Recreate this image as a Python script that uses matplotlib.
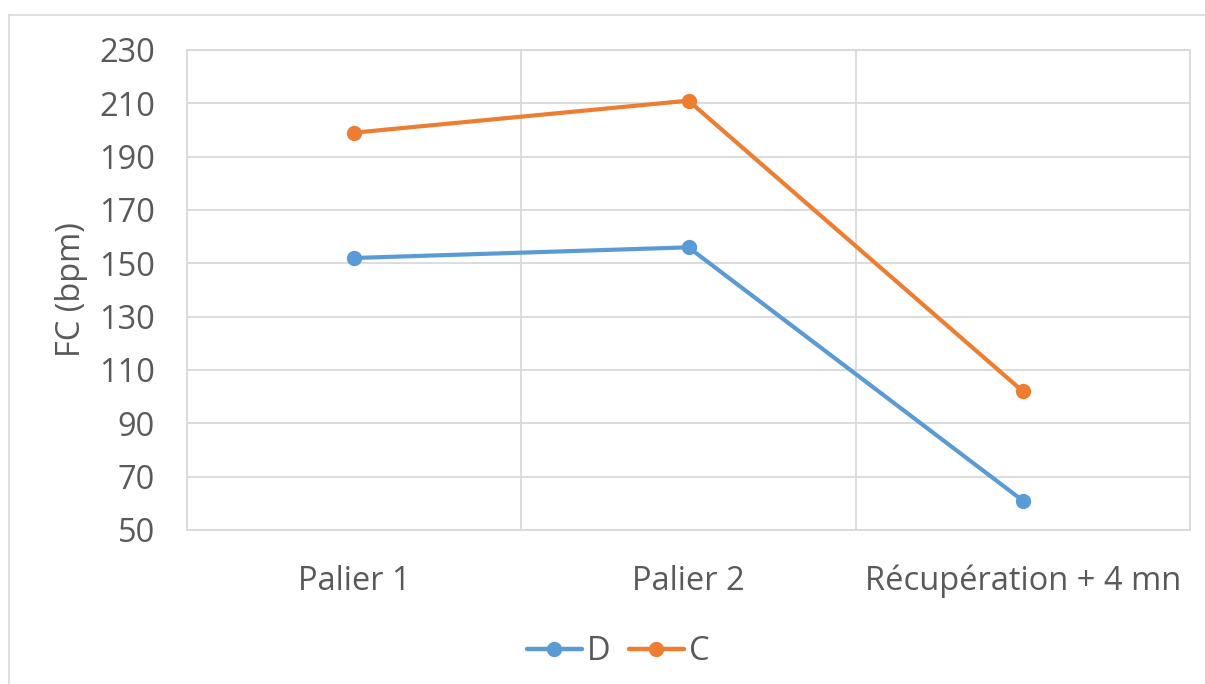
import matplotlib
matplotlib.use("Agg")
import matplotlib.pyplot as plt
from matplotlib.lines import Line2D

categories = ["Palier 1", "Palier 2", "Récupération + 4 mn"]
series_names = ["D", "C"]
d_values = [152, 156, 61]
c_values = [199, 211, 102]
y_ticks = [50, 70, 90, 110, 130, 150, 170, 190, 210, 230]

plt.rcParams['font.family'] = ['Open Sans', 'DejaVu Sans']
txt = '#595959'
grid = '#d9d9d9'
colors = ['#5B9BD5', '#ED7D31']
fs = 23.5

fig = plt.figure(figsize=(12.05, 6.84), dpi=100)
ax = fig.add_axes([187/1205, 1-530/684, (1190-187)/1205, (530-50)/684])

x = list(range(len(categories)))
for vals, name, col in zip([d_values, c_values], series_names, colors):
    ax.plot(x, vals, color=col, lw=3.0, marker='o', ms=10, label=name,
            solid_capstyle='round', zorder=3)

ax.set_xlim(-0.5, len(categories) - 0.5)
ax.set_ylim(y_ticks[0], y_ticks[-1])
ax.set_yticks(y_ticks)
ax.set_xticks(x)
ax.set_xticklabels(categories)
ax.set_xticks([i + 0.5 for i in range(len(categories) - 1)], minor=True)
ax.grid(True, which='major', axis='y', color=grid, lw=1.3)
ax.grid(True, which='minor', axis='x', color=grid, lw=1.3)
ax.tick_params(axis='both', which='both', length=0, labelsize=fs, labelcolor=txt)
ax.tick_params(axis='y', pad=23)
ax.tick_params(axis='x', pad=25)
for s in ax.spines.values():
    s.set_color(grid)
    s.set_linewidth(1.3)
ax.set_ylabel("FC (bpm)", fontsize=fs, color=txt, labelpad=8)

leg = fig.legend(loc='center', bbox_to_anchor=(618/1205, 1-652/684), ncol=2,
                 frameon=False, fontsize=fs, handlelength=1.7, handletextpad=0.15,
                 columnspacing=0.55)
for t in leg.get_texts():
    t.set_color(txt)
for h in leg.legend_handles:
    h.set_linewidth(3.2)

fig.add_artist(Line2D([9/1205, 1], [1-15/684, 1-15/684], color=grid, lw=1.2))
fig.add_artist(Line2D([9/1205, 9/1205], [0, 1-15/684], color=grid, lw=1.2))

fig.savefig("out.png", dpi=100, facecolor='white')
